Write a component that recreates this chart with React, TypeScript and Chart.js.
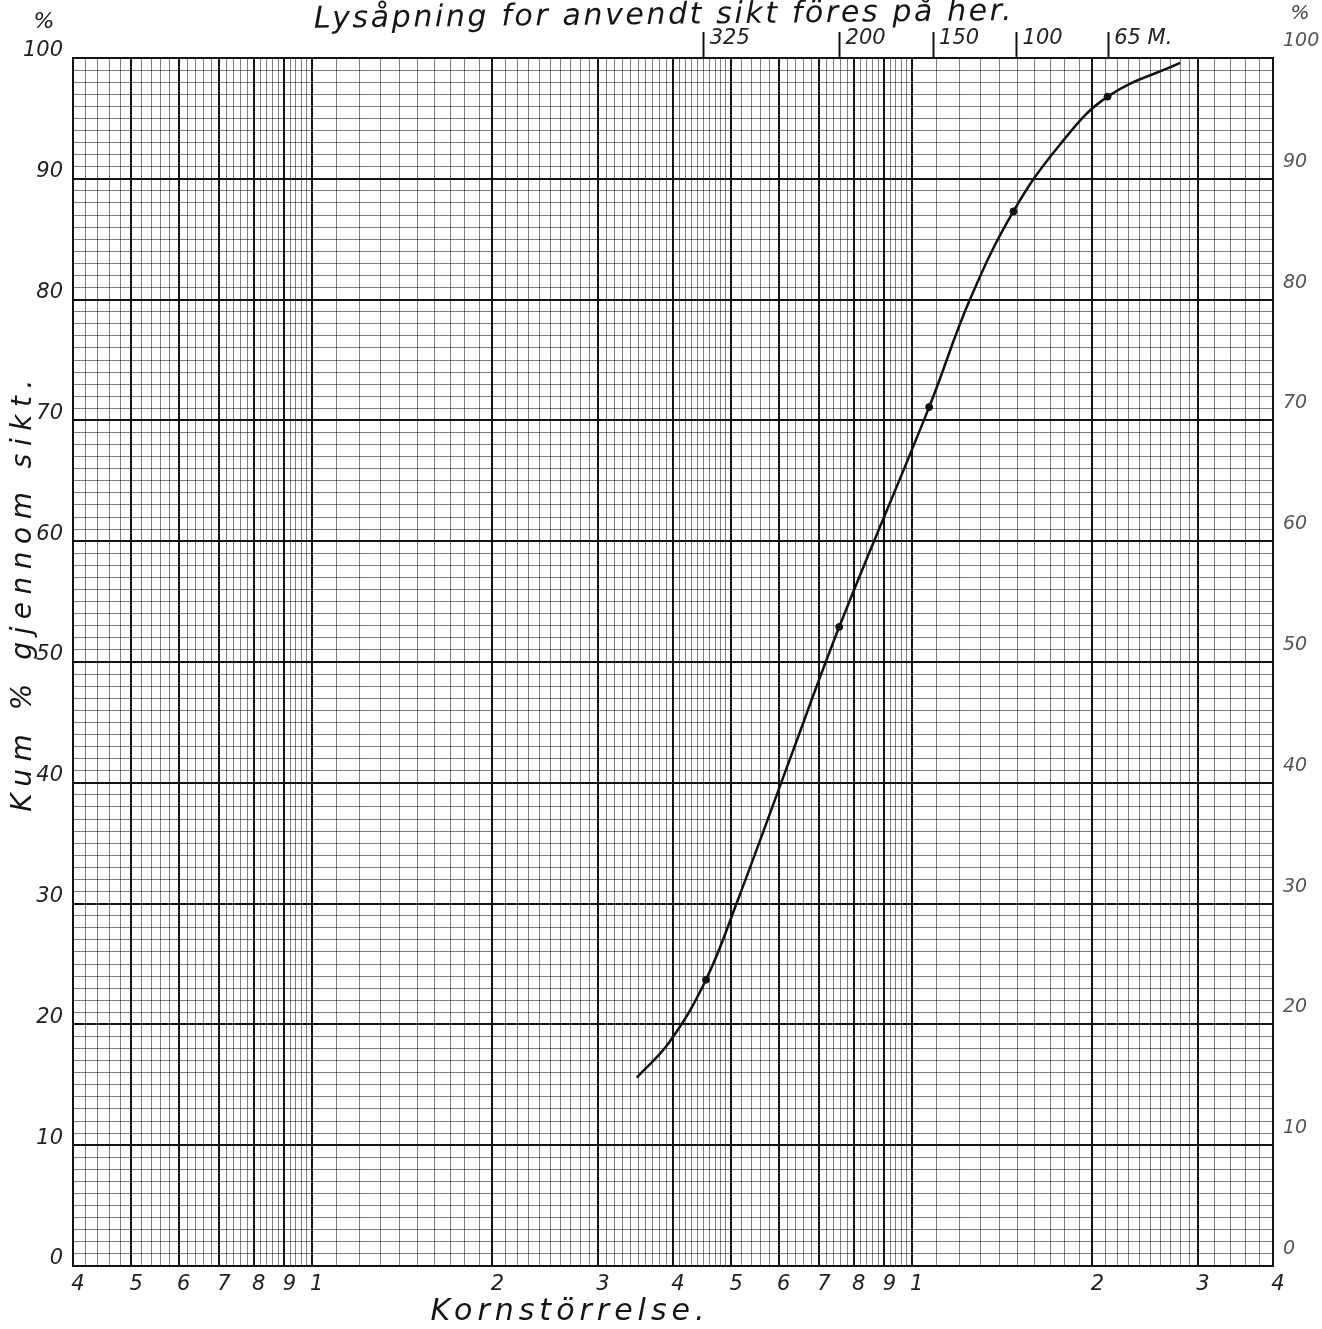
import React, { useEffect, useRef } from "react";
import { Chart, registerables } from "chart.js";

Chart.register(...registerables);

// Grain size in paper units (label "1" = 10 µm), cumulative % passing
const curveSize = [3.48, 3.94, 4.54, 5.13, 6.27, 7.57, 10.69, 12.5, 14.77, 17.64, 21.2, 28.0];
const curvePass = [15.6, 18.5, 23.7, 30.3, 42.0, 52.9, 71.1, 80.0, 87.3, 92.8, 96.8, 99.6];

// Sieve points marked on the curve
const sieveSize = [4.54, 7.57, 10.69, 14.77, 21.2];
const sievePass = [23.7, 52.9, 71.1, 87.3, 96.8];

// Top axis: sieve mesh numbers
const meshTickValues = [4.5, 7.58, 10.85, 14.95, 21.25];
const meshLabels = ["325", "200", "150", "100", "65 M."];

// Bottom axis labelled ticks
const xTickValues = [0.4, 0.5, 0.6, 0.7, 0.8, 0.9, 1, 2, 3, 4, 5, 6, 7, 8, 9, 10, 20, 30, 40];
const xTickLabels = ["4", "5", "6", "7", "8", "9", "1", "2", "3", "4", "5", "6", "7", "8", "9", "1", "2", "3", "4"];

// Y axis labelled ticks
const yTickValues = [0, 10, 20, 30, 40, 50, 60, 70, 80, 90, 100];
const yTickLabels = ["0", "10", "20", "30", "40", "50", "60", "70", "80", "90", "100"];

const topTitle = "Lysåpning for anvendt sikt föres på her.";
const yTitle = "Kum % gjennom sikt.";
const xTitle = "Kornstörrelse.";
const percentSign = "%";

// log-paper ruling (minor grid lines)
const xGrid: number[] = [];
const addRange = (a: number, b: number, step: number) => {
  const n = Math.round((b - a) / step);
  for (let i = 0; i < n; i++) xGrid.push(+(a + i * step).toFixed(3));
};
addRange(0.4, 1, 0.02);
addRange(1, 5, 0.1);
addRange(5, 10, 0.2);
addRange(10, 30, 1);
addRange(30, 40, 2);
xGrid.push(40);

const yGrid: number[] = [];
for (let i = 0; i <= 100; i++) yGrid.push(i);

const key = (v: number) => v.toFixed(2);
const xLabelMap = new Map<string, string>();
xTickValues.forEach((v, i) => xLabelMap.set(key(v), xTickLabels[i]));
const yLabelMap = new Map<string, string>();
yTickValues.forEach((v, i) => yLabelMap.set(key(v), yTickLabels[i]));
const meshMap = new Map<string, string>();
meshTickValues.forEach((v, i) => meshMap.set(key(v), meshLabels[i]));

const FONT = '"DejaVu Sans", sans-serif';
const MAJOR = "#141414";
const MINOR = "rgba(0,0,0,0.5)";

const textPlugin = {
  id: "paperText",
  afterDraw(chart: any) {
    const ctx = chart.ctx as CanvasRenderingContext2D;
    ctx.save();
    ctx.fillStyle = "#151515";
    ctx.textAlign = "center";
    ctx.textBaseline = "middle";
    (ctx as any).letterSpacing = "2.6px";
    ctx.font = `italic 30px ${FONT}`;
    // top title
    ctx.save();
    ctx.translate(664, 16);
    ctx.rotate(-0.011);
    ctx.fillText(topTitle, 0, 0);
    ctx.restore();
    // y title
    ctx.save();
    ctx.translate(24, 592);
    ctx.rotate(-Math.PI / 2);
    (ctx as any).letterSpacing = "7.5px";
    ctx.font = `italic 28px ${FONT}`;
    ctx.fillText(yTitle, 0, 0);
    ctx.restore();
    // x title
    (ctx as any).letterSpacing = "5px";
    ctx.font = `italic 30px ${FONT}`;
    ctx.fillText(xTitle, 570, 1312);
    // percent signs
    (ctx as any).letterSpacing = "0px";
    ctx.font = `italic 22px ${FONT}`;
    ctx.fillText(percentSign, 44, 22);
    ctx.fillStyle = "#444";
    ctx.font = `italic 20px ${FONT}`;
    ctx.fillText(percentSign, 1300, 14);
    ctx.restore();
  },
};

export default function App() {
  const ref = useRef<HTMLCanvasElement | null>(null);
  useEffect(() => {
    if (!ref.current) return;
    const chart = new Chart(ref.current, {
      type: "scatter",
      data: {
        datasets: [
          {
            label: "Kum % gjennom sikt",
            data: curveSize.map((x, i) => ({ x, y: curvePass[i] })),
            showLine: true,
            borderColor: "#111",
            borderWidth: 2.5,
            pointRadius: 0,
            tension: 0.4,
            xAxisID: "x",
            yAxisID: "y",
          } as any,
          {
            label: "Sikt",
            data: sieveSize.map((x, i) => ({ x, y: sievePass[i] })),
            showLine: false,
            pointRadius: 3.5,
            backgroundColor: "#111",
            borderColor: "#111",
            xAxisID: "x",
            yAxisID: "y",
          },
        ],
      },
      options: {
        animation: false,
        responsive: false,
        devicePixelRatio: 1,
        layout: { padding: 0 },
        plugins: { legend: { display: false }, tooltip: { enabled: false } },
        scales: {
          x: {
            type: "logarithmic",
            position: "bottom",
            min: 0.4,
            max: 40,
            afterBuildTicks: (s: any) => {
              s.ticks = xGrid.map((v) => ({ value: v }));
            },
            afterFit: (s: any) => {
              s.height = 63;
            },
            grid: {
              drawTicks: false,
              color: (c: any) => (c.tick && xLabelMap.has(key(c.tick.value)) ? MAJOR : MINOR),
              lineWidth: (c: any) => (c.tick && xLabelMap.has(key(c.tick.value)) ? 2 : 1),
            },
            border: { display: true, color: MAJOR, width: 2 },
            ticks: {
              autoSkip: false,
              maxRotation: 0,
              minRotation: 0,
              padding: 6,
              labelOffset: 5,
              color: "#222",
              font: { family: FONT, size: 21, style: "italic" },
              callback: (v: any) => xLabelMap.get(key(Number(v))) ?? "",
            },
          },
          x2: {
            type: "logarithmic",
            position: "top",
            min: 0.4,
            max: 40,
            afterBuildTicks: (s: any) => {
              s.ticks = meshTickValues.map((v) => ({ value: v }));
            },
            afterFit: (s: any) => {
              s.height = 58;
            },
            grid: {
              drawOnChartArea: false,
              drawTicks: true,
              tickLength: 26,
              tickWidth: 2,
              tickColor: MAJOR,
            },
            border: { display: true, color: MAJOR, width: 2 },
            ticks: {
              autoSkip: false,
              maxRotation: 0,
              minRotation: 0,
              align: "start",
              padding: -19,
              labelOffset: 6,
              color: "#222",
              font: { family: FONT, size: 21, style: "italic" },
              callback: (v: any) => meshMap.get(key(Number(v))) ?? "",
            },
          },
          y: {
            type: "linear",
            position: "left",
            min: 0,
            max: 100,
            afterBuildTicks: (s: any) => {
              s.ticks = yGrid.map((v) => ({ value: v }));
            },
            afterFit: (s: any) => {
              s.width = 73;
            },
            grid: {
              drawTicks: false,
              color: (c: any) => (c.tick && c.tick.value % 10 === 0 ? MAJOR : MINOR),
              lineWidth: (c: any) => (c.tick && c.tick.value % 10 === 0 ? 2 : 1),
            },
            border: { display: true, color: MAJOR, width: 2 },
            ticks: {
              autoSkip: false,
              padding: 10,
              labelOffset: -7,
              color: "#222",
              font: { family: FONT, size: 21, style: "italic" },
              callback: (v: any) => yLabelMap.get(key(Number(v))) ?? "",
            },
          },
          y2: {
            type: "linear",
            position: "right",
            min: 0,
            max: 100,
            afterBuildTicks: (s: any) => {
              s.ticks = yGrid.map((v) => ({ value: v }));
            },
            afterFit: (s: any) => {
              s.width = 49;
            },
            grid: { drawOnChartArea: false, drawTicks: false },
            border: { display: true, color: MAJOR, width: 2 },
            ticks: {
              autoSkip: false,
              padding: 10,
              labelOffset: -17,
              color: "#555",
              font: { family: FONT, size: 19, style: "italic" },
              callback: (v: any) => yLabelMap.get(key(Number(v))) ?? "",
            },
          },
        },
      } as any,
      plugins: [textPlugin],
    });
    return () => chart.destroy();
  }, []);
  return (
    <div style={{ position: "absolute", left: 0, top: 0, width: 1322, height: 1329, background: "#fff" }}>
      <canvas ref={ref} width={1322} height={1329} style={{ display: "block" }} />
    </div>
  );
}
